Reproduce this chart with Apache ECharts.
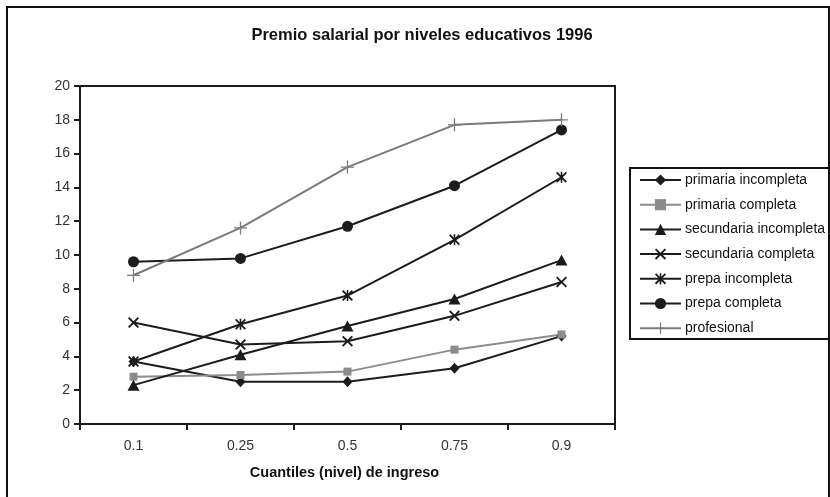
<!DOCTYPE html>
<html>
<head>
<meta charset="utf-8">
<script src="https://cdn.jsdelivr.net/npm/echarts@6/dist/echarts.min.js"></script>
<style>
  html, body { margin: 0; padding: 0; background: #fff; }
  #chart { width: 830px; height: 497px; }
</style>
</head>
<body>
<div id="chart"></div>
<script>
// Income quantiles (x axis)
const quantiles = ['0.1', '0.25', '0.5', '0.75', '0.9'];

// Wage premium by education level, one array per group
const primariaIncompleta   = [3.7, 2.5, 2.5, 3.3, 5.2];
const primariaCompleta     = [2.8, 2.9, 3.1, 4.4, 5.3];
const secundariaIncompleta = [2.3, 4.1, 5.8, 7.4, 9.7];
const secundariaCompleta   = [6.0, 4.7, 4.9, 6.4, 8.4];
const prepaIncompleta      = [3.7, 5.9, 7.6, 10.9, 14.6];
const prepaCompleta        = [9.6, 9.8, 11.7, 14.1, 17.4];
const profesional          = [8.8, 11.6, 15.2, 17.7, 18.0];

// Y axis range
const yMin = 0, yMax = 20, yStep = 2;

const DARK = '#1c1c1c';
const GRAY = '#8c8c8c';
const FONT = '"Liberation Sans", Arial, sans-serif';

// Marker shapes
const crossX = 'path://M0,1.2 L1.2,0 L5,3.8 L8.8,0 L10,1.2 L6.2,5 L10,8.8 L8.8,10 L5,6.2 L1.2,10 L0,8.8 L3.8,5 Z';
const asterisk = crossX + ' M4.3,0 L5.7,0 L5.7,10 L4.3,10 Z';
const plus = 'path://M4.5,0 L5.5,0 L5.5,4.5 L10,4.5 L10,5.5 L5.5,5.5 L5.5,10 L4.5,10 L4.5,5.5 L0,5.5 L0,4.5 L4.5,4.5 Z';

function makeSeries(name, data, color, symbol, size) {
  return {
    name: name,
    type: 'line',
    data: data,
    symbol: symbol,
    symbolSize: size,
    showSymbol: true,
    lineStyle: { color: color, width: 2 },
    itemStyle: { color: color, borderWidth: 0 },
    emphasis: { disabled: true },
    animation: false,
    z: 3
  };
}

const series = [
  makeSeries('primaria incompleta', primariaIncompleta, DARK, 'diamond', [10, 11]),
  makeSeries('primaria completa', primariaCompleta, GRAY, 'rect', 8),
  makeSeries('secundaria incompleta', secundariaIncompleta, DARK, 'triangle', [12, 11]),
  makeSeries('secundaria completa', secundariaCompleta, DARK, crossX, 11),
  makeSeries('prepa incompleta', prepaIncompleta, DARK, asterisk, 11),
  makeSeries('prepa completa', prepaCompleta, DARK, 'circle', 11),
  makeSeries('profesional', profesional, '#7a7a7a', plus, 13)
];

const chart = echarts.init(document.getElementById('chart'), null, { renderer: 'canvas' });
chart.setOption({
  backgroundColor: '#fff',
  animation: false,
  title: {
    text: 'Premio salarial por niveles educativos 1996',
    left: 417,
    top: 22,
    textAlign: 'center',
    textStyle: { fontFamily: FONT, fontSize: 16.5, fontWeight: 'bold', color: '#111' }
  },
  grid: {
    left: 80, top: 86, right: 215, bottom: 73,
    show: true, borderColor: DARK, borderWidth: 2, backgroundColor: 'transparent'
  },
  legend: {
    orient: 'vertical',
    left: 634,
    top: 168,
    itemWidth: 41,
    itemHeight: 14,
    itemGap: 10.7,
    textStyle: { fontFamily: FONT, fontSize: 14, lineHeight: 14, color: '#111', padding: [0, 0, 0, -1] },
    data: series.map(s => s.name)
  },
  xAxis: {
    type: 'category',
    data: quantiles,
    boundaryGap: true,
    name: 'Cuantiles (nivel) de ingreso',
    nameLocation: 'middle',
    nameGap: 41,
    nameTextStyle: { fontFamily: FONT, fontSize: 14.5, fontWeight: 'bold', color: '#111', padding: [0, 6, 0, 0] },
    axisLine: { lineStyle: { color: DARK, width: 2 } },
    axisTick: { show: true, interval: 0, length: 6, inside: false, lineStyle: { color: DARK, width: 2 } },
    axisLabel: { fontFamily: FONT, fontSize: 14, color: '#333', margin: 15 },
    splitLine: { show: false }
  },
  yAxis: {
    type: 'value',
    min: yMin, max: yMax, interval: yStep,
    axisLine: { show: true, lineStyle: { color: DARK, width: 2 } },
    axisTick: { show: true, length: 6, lineStyle: { color: DARK, width: 2 } },
    axisLabel: { fontFamily: FONT, fontSize: 14, color: '#333', margin: 10 },
    splitLine: { show: false }
  },
  graphic: [
    {
      type: 'rect',
      shape: { x: 7, y: 7, width: 822, height: 510 },
      style: { fill: 'none', stroke: '#111', lineWidth: 2 },
      silent: true
    },
    {
      type: 'rect',
      shape: { x: 630, y: 168, width: 199, height: 171 },
      style: { fill: 'none', stroke: '#111', lineWidth: 2 },
      silent: true
    }
  ],
  series: series
});
</script>
</body>
</html>
